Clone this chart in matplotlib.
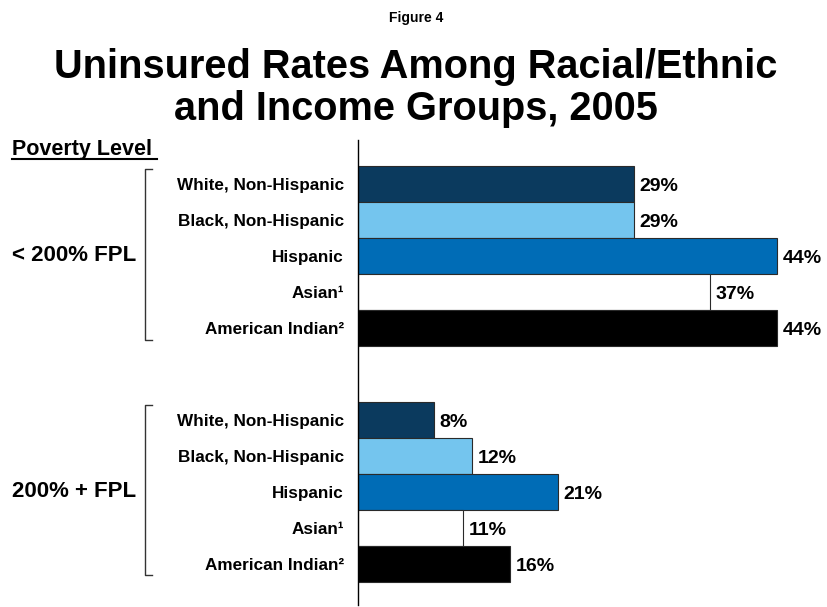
import matplotlib
matplotlib.use("Agg")
import matplotlib.pyplot as plt
from matplotlib.transforms import blended_transform_factory

plt.rcParams['font.family'] = ['Liberation Sans', 'DejaVu Sans']

groups = ["< 200% FPL", "200% + FPL"]
categories = ["White, Non-Hispanic", "Black, Non-Hispanic", "Hispanic",
              "Asian\u00b9", "American Indian\u00b2"]
low_income = [29, 29, 44, 37, 44]
high_income = [8, 12, 21, 11, 16]
colors = ["#0b3a5e", "#74c5ee", "#006cb6", "#ffffff", "#000000"]

W, H = 827, 607
fig = plt.figure(figsize=(W / 100, H / 100), dpi=100)
ax = fig.add_axes([358 / W, 2 / H, (W - 358) / W, (605 - 140) / H])

group_offset = 6.55
all_pos, all_lbl = [], []
for g, vals in enumerate([low_income, high_income]):
    pos = [g * group_offset + i for i in range(len(categories))]
    ax.barh(pos, vals, height=1.0, color=colors, edgecolor="#2a2a2a", linewidth=0.8)
    for p, v in zip(pos, vals):
        ax.text(v + 0.6, p + 0.08, f"{v}%", va="center", ha="left",
                fontsize=14, fontweight="bold")
    all_pos += pos
    all_lbl += categories

ax.set_yticks(all_pos)
ax.set_yticklabels(all_lbl, fontsize=12.3, fontweight="bold")
ax.tick_params(axis="y", length=0, pad=10)
ax.set_xticks([])
ax.set_xlim(0, (W - 358) / 9.52)
ax.set_ylim(11.7, -1.22)
for s in ["top", "right", "bottom"]:
    ax.spines[s].set_visible(False)
ax.spines["left"].set_linewidth(1.0)

# brackets and group labels
tr = blended_transform_factory(fig.transFigure, ax.transData)
bx, tick = 145 / W, 7 / W
for g, name in enumerate(groups):
    y0 = g * group_offset - 0.42
    y1 = g * group_offset + 4.33
    ax.plot([bx + tick, bx, bx, bx + tick], [y0, y0, y1, y1], transform=tr,
            color="#333333", lw=1.0, clip_on=False)
    ax.text(12 / W, g * group_offset + 2, name, transform=tr, ha="left",
            va="center", fontsize=16, fontweight="bold")

fig.text(12 / W, 1 - 149 / H, "Poverty Level", ha="left", va="center",
         fontsize=15.5, fontweight="bold")
fig.add_artist(plt.Line2D([12 / W, 157 / W], [1 - 159 / H, 1 - 159 / H],
                          color="black", lw=1.5))

fig.text(416 / W, 1 - 18 / H, "Figure 4", ha="center", va="center",
         fontsize=10, fontweight="bold")
fig.text(416 / W, 1 - 88 / H,
         "Uninsured Rates Among Racial/Ethnic\nand Income Groups, 2005",
         ha="center", va="center", fontsize=28.6, fontweight="bold",
         linespacing=1.12)

fig.savefig("out.png", dpi=100)
